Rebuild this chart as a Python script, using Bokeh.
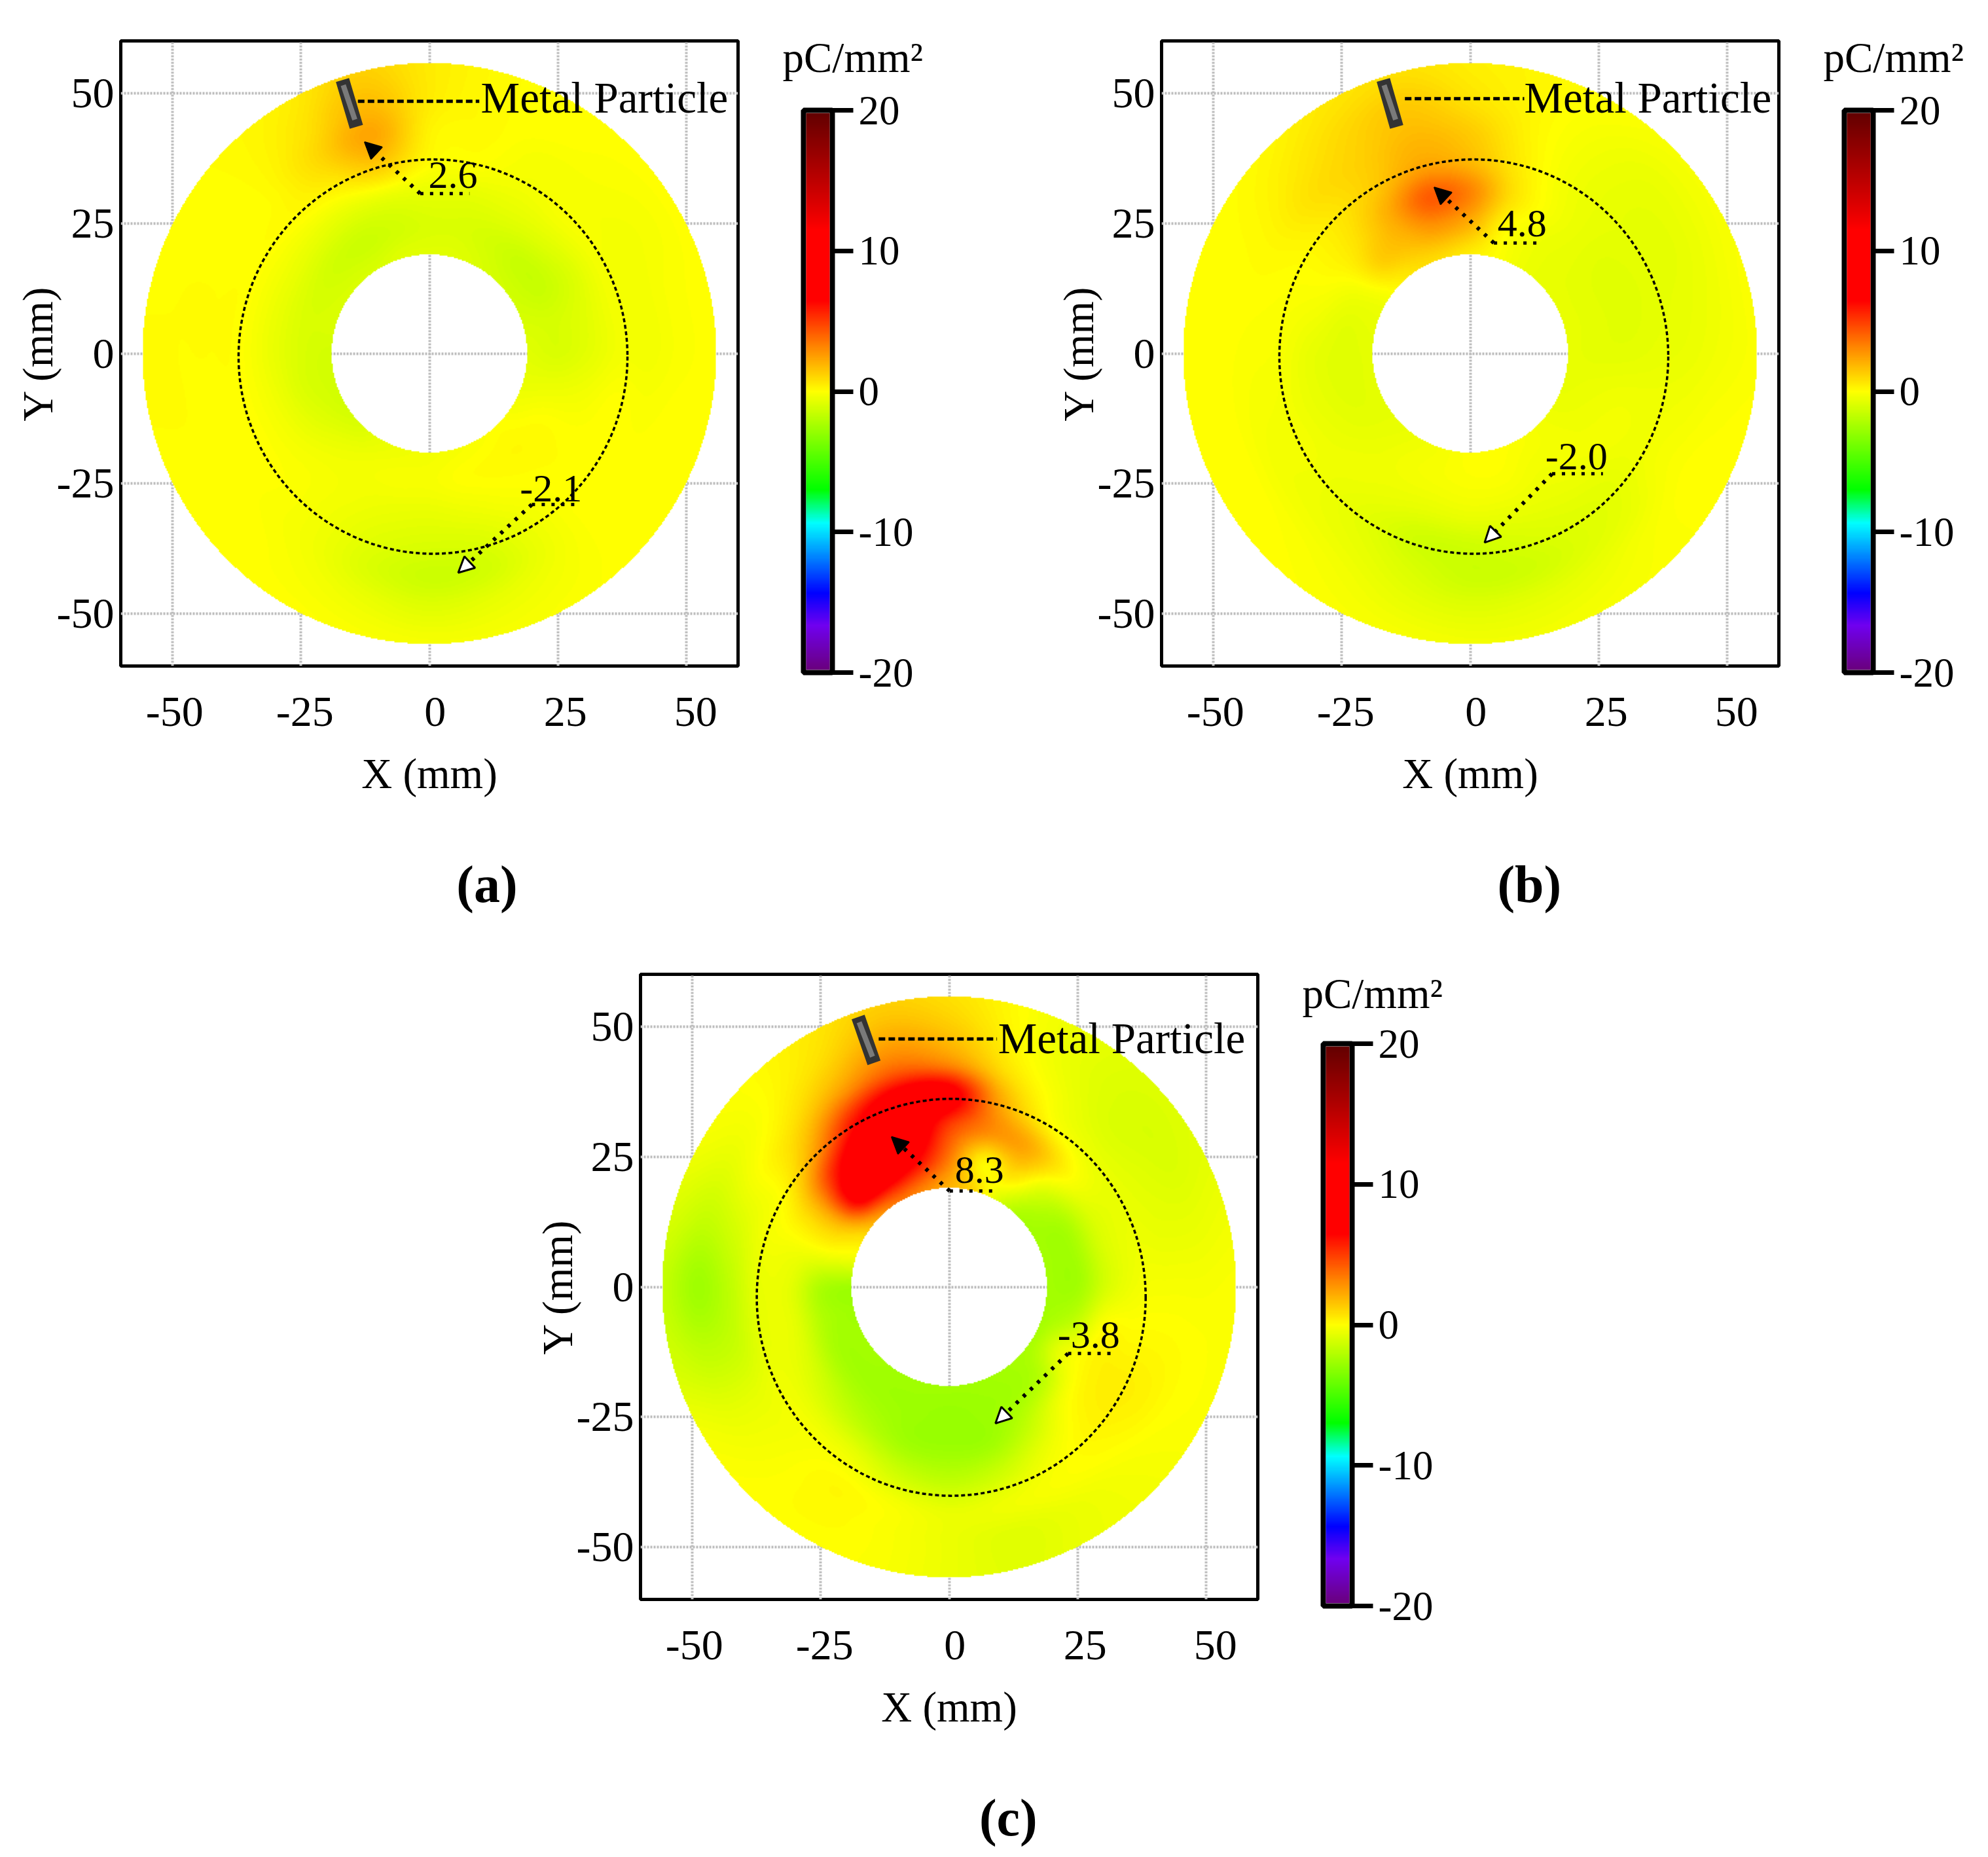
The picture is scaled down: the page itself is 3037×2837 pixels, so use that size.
import numpy as np
from bokeh.core.properties import value
from bokeh.embed import file_html
from bokeh.layouts import column, row
from bokeh.models import (Arrow, FixedTicker, LinearAxis, LinearColorMapper,
                          NormalHead, Range1d, Spacer, Title)
from bokeh.plotting import figure
from bokeh.resources import INLINE

FONT = "Liberation Serif"

# ---- data ----
XY_TICKS = [-50, -25, 0, 25, 50]
XY_TICK_LABELS = ["-50", "-25", "0", "25", "50"]
CB_TICKS = [-20, -10, 0, 10, 20]
CB_TICK_LABELS = ["-20", "-10", "0", "10", "20"]
X_LABEL = "X (mm)"
Y_LABEL = "Y (mm)"
CB_TITLE = "pC/mm\u00b2"
PARTICLE_LABEL = "Metal Particle"
PANEL_NAMES = ["(a)", "(b)", "(c)"]

RINGS = [19, 25, 31, 37, 43, 49, 55.9]      # mm
ANGLE_STEP = 15                             # degrees; columns run 0, 15, ... 345

# surface charge density (pC/mm2) read per ring (rows) and angle (columns)
FIELD_A = [
 [-.8,-1,-1.2,-1.2,-1,-.8,-.8,-.8,-1,-1,-1,-1,-1.2,-1.2,-1.2,-1,-.6,-.4,-.3,-.2,-.1,0,-.3,-.6],
 [-1,-1.1,-1.5,-1.5,-1.2,-1,-1,-1.2,-1.4,-1.3,-1.1,-1,-1,-1,-.8,-.5,-.3,-.2,-.2,0,.1,.15,0,-.5],
 [-.7,-.8,-1,-.8,-.7,-.7,-.6,-.6,-.7,-.6,-.5,-.5,-.5,-.4,-.3,-.2,-.3,-.5,-.6,-.4,-.1,.05,0,-.3],
 [-.3,-.3,-.3,-.2,-.3,-.1,.1,1.2,.4,.1,0,0,0,0,0,-.1,-.4,-.8,-1,-.9,-.4,0,0,0],
 [-.3,-.3,-.3,-.2,-.2,.1,.3,2.3,1,.1,0,.05,.05,0,0,-.1,-.4,-1,-1.4,-1.2,-.5,0,0,-.1],
 [-.1,-.1,-.2,-.1,0,.1,.5,1.8,.7,.1,0,.05,.05,.05,0,0,-.2,-.5,-.8,-.6,-.3,0,0,0],
 [0,0,0,0,0,.1,.5,1.2,.4,.1,0,0,.1,.05,0,0,0,-.1,-.2,-.2,-.1,0,0,0],
]
FIELD_B = [
 [-.6,-.6,-.6,-.6,-.4,0,.4,.8,.8,.3,-.4,-.6,-.7,-.7,-.7,-.6,-.4,-.2,0,0,-.1,-.3,-.5,-.6],
 [-.7,-.7,-.7,-.6,-.4,.2,2,2.6,1.8,1.2,-.2,-.7,-.8,-.8,-.7,-.5,-.3,-.2,-.1,-.1,-.3,-.3,-.4,-.5],
 [-.7,-.8,-.8,-.6,-.2,.8,3.2,4.2,2.2,.8,.1,-.3,-.6,-.6,-.5,-.4,-.5,-.6,-.5,-.5,-.5,-.4,-.3,-.4],
 [-.6,-.7,-.7,-.6,-.3,.5,1.8,2.4,1.4,.6,.1,-.1,-.2,-.3,-.3,-.5,-.8,-1.3,-1.3,-1,-.8,-.7,-.4,-.4],
 [-.5,-.6,-.7,-.6,-.3,.3,1.3,1.8,1.2,.8,.2,0,-.1,-.2,-.3,-.4,-.6,-1,-1.4,-1.3,-.9,-.6,-.2,-.3],
 [-.3,-.4,-.5,-.5,-.2,.2,.7,1.4,1,.5,.1,0,0,0,0,-.1,-.3,-.6,-.8,-.7,-.5,-.2,0,-.1],
 [-.1,-.1,-.2,-.2,0,.2,.4,.8,.6,.2,0,0,0,0,0,0,-.1,-.2,-.3,-.3,-.2,-.1,0,0],
]
FIELD_C = [
 [-2.5,-2.5,-2.5,-2.3,-1,1,2,3,3.5,2.5,.8,-.5,-2.6,-2.6,-2.5,-2.5,-2.6,-2.6,-2.6,-2.6,-2.5,-2.4,-2.4,-2.5],
 [-2.5,-2.5,-2.3,-1.2,.8,.3,3.5,6.5,8,7.5,2,-.2,-2.2,-2.2,-2.4,-2.5,-2.6,-2.7,-2.8,-2.7,-2.5,-2,-.6,-1.8],
 [-1,-1,-.8,.3,2.2,3,5,8.5,8.5,6,1.5,-.2,-.7,-.7,-1,-1.5,-2,-2.6,-2.7,-2.6,-1.6,-.3,.2,0],
 [-.3,-.5,-.6,-.4,.3,2.5,7.5,8,6,2.5,.2,-.3,-.6,-.6,-.4,-.4,-.6,-1.4,-1.8,-1.4,-.5,.2,.4,.1],
 [-.2,-.6,-.8,-.9,-.3,.8,3,4,2.5,.8,-.1,-1.1,-1.8,-1.5,-.6,-.2,.1,-.2,-.6,-.4,-.1,.1,.3,.1],
 [-.2,-.6,-1,-1,-.6,.2,1.5,2.2,1,.1,-.6,-1.6,-2.6,-1.7,-.6,-.1,.1,-.1,-.5,-.8,-.5,-.2,0,0],
 [-.1,-.4,-.8,-.9,-.6,0,.8,1.2,.5,0,-.3,-1,-1.6,-1.2,-.3,0,0,-.1,-.5,-.8,-.5,-.3,-.1,-.1],
]

PEAK_LABELS = ["2.6", "4.8", "8.3"]
TROUGH_LABELS = ["-2.1", "-2.0", "-3.8"]

# colour bar stops: value, colour
CB_STOP_VALUES = [-20, -16.7, -14.4, -9.4, -7, 0, 3.3, 6.5, 11.5, 20]
CB_STOP_COLORS = ["#6a0078", "#7000f0", "#0000ff", "#00ffff", "#00ff00",
                  "#ffff00", "#ff8000", "#ff0000", "#ff0000", "#600000"]

# ---- annotation geometry, mm, per panel ----
CIRCLE_X = [0.7, 0.7, 0.4]
CIRCLE_Y = [-0.6, -0.6, -2.0]
CIRCLE_W = [75.6, 75.6, 75.6]
CIRCLE_H = [75.7, 75.7, 76.2]
BAR_X0 = [-16.9, -16.9, -17.7]
BAR_Y0 = [52.5, 52.5, 51.8]
BAR_X1 = [-14.2, -14.3, -14.6]
BAR_Y1 = [43.5, 43.5, 43.0]
CORE_X0 = [-16.75, -16.75, -17.5]
CORE_Y0 = [51.5, 51.5, 50.8]
CORE_X1 = [-14.5, -14.5, -14.9]
CORE_Y1 = [44.9, 44.9, 44.2]
LEADER_X0 = [-13.9, -12.7, -13.7]
LEADER_X1 = [9.7, 10.5, 9.3]
LEADER_Y = [48.4, 48.9, 47.6]
NAME_X = [10.0, 10.5, 9.5]
NAME_Y = [49.1, 49.1, 47.8]
HOT_TIP_X = [-12.6, -7.0, -11.2]
HOT_TIP_Y = [40.6, 31.9, 28.8]
HOT_ELBOW_X = [-1.8, 4.6, 0.1]
HOT_ELBOW_Y = [30.7, 21.2, 18.4]
HOT_END_X = [7.8, 13.4, 9.0]
HOT_TEXT_X = [-0.2, 5.3, 1.1]
HOT_TEXT_Y = [34.3, 25.0, 22.4]
COLD_TIP_X = [5.6, 2.8, 9.0]
COLD_TIP_Y = [-42.1, -36.3, -26.2]
COLD_ELBOW_X = [19.9, 15.9, 23.1]
COLD_ELBOW_Y = [-29.0, -23.1, -12.8]
COLD_END_X = [29.0, 25.8, 32.2]
COLD_TEXT_X = [17.6, 14.6, 21.1]
COLD_TEXT_Y = [-25.9, -19.8, -9.2]
CAPTION_X = [11.2, 11.5, 11.5]


def make_palette():
    vals = np.linspace(-20, 20, 401)
    rgb = [[int(c[i:i + 2], 16) for c in CB_STOP_COLORS] for i in (1, 3, 5)]
    chan = [np.interp(vals, CB_STOP_VALUES, ch) for ch in rgb]
    return ["#%02x%02x%02x" % (int(r), int(g), int(b)) for r, g, b in zip(*chan)]


MAPPER = LinearColorMapper(palette=make_palette(), low=-20, high=20, nan_color="#00000000")


def cr_weights(t):
    return [-.5*t + t*t - .5*t**3, 1 - 2.5*t*t + 1.5*t**3, .5*t + 2*t*t - 1.5*t**3, -.5*t*t + .5*t**3]


def shade(table):
    # The table is all the data; this is only the smooth shading between its cells.
    tab = np.array(table, float)
    xs = np.linspace(-60, 60, 472)
    ys = np.linspace(-60, 60, 478)
    X, Y = np.meshgrid(xs, ys)
    R = np.hypot(X, Y)
    T = np.degrees(np.arctan2(Y, X)) % 360 / ANGLE_STEP
    F = np.interp(R, RINGS, np.arange(len(RINGS)))
    fi, ti = np.floor(F).astype(int), np.floor(T).astype(int)
    wf, wt = cr_weights(F - fi), cr_weights(T - ti)
    out = np.zeros_like(X)
    for a in range(4):
        ii = np.clip(fi + a - 1, 0, len(RINGS) - 1)
        for b in range(4):
            out += wf[a] * wt[b] * tab[ii, (ti + b - 1) % tab.shape[1]]
    out[(R < 19.1) | (R > 55.9)] = np.nan
    return out


def panel(i, table, width, height, left, top_b, bottom):
    p = figure(width=width, height=height, x_range=Range1d(-60, 60), y_range=Range1d(-60, 60),
               output_backend="svg", toolbar_location=None, frame_align=False,
               min_border_left=left, min_border_right=63, min_border_top=top_b, min_border_bottom=bottom,
               background_fill_color="white", border_fill_color="white")
    p.outline_line_color = "black"
    p.outline_line_width = 5
    p.outline_line_alpha = 1

    p.xaxis.visible = False
    p.xaxis.ticker = FixedTicker(ticks=XY_TICKS)
    p.extra_x_ranges = {"lab": Range1d(-60.34, 58.15)}
    xa = LinearAxis(x_range_name="lab", ticker=FixedTicker(ticks=XY_TICKS),
                    major_label_overrides=dict(zip(XY_TICKS, XY_TICK_LABELS)), axis_label=X_LABEL)
    p.add_layout(xa, "below")
    ya = p.yaxis[0]
    ya.ticker = FixedTicker(ticks=XY_TICKS)
    ya.major_label_overrides = dict(zip(XY_TICKS, XY_TICK_LABELS))
    ya.axis_label = Y_LABEL
    ya.major_label_orientation = "horizontal"
    for ax, std, lstd in ((xa, 42, 34), (ya, 4, -10)):
        ax.axis_line_color = None
        ax.major_tick_line_color = None
        ax.minor_tick_line_color = None
        ax.major_label_text_font = FONT
        ax.major_label_text_font_size = "66px"
        ax.major_label_text_color = "black"
        ax.major_label_standoff = std
        ax.axis_label_text_font = FONT
        ax.axis_label_text_font_size = "65px"
        ax.axis_label_text_font_style = "normal"
        ax.axis_label_text_color = "black"
        ax.axis_label_standoff = lstd
    # caption under the X axis, placed with a single labelled position
    cap = LinearAxis(ticker=FixedTicker(ticks=[CAPTION_X[i]]),
                     major_label_overrides={CAPTION_X[i]: PANEL_NAMES[i]},
                     axis_line_color=None, major_tick_line_color=None, minor_tick_line_color=None,
                     major_label_standoff=80, major_label_text_font=FONT, major_label_text_font_size="80px",
                     major_label_text_font_style="bold", major_label_text_color="black")
    p.add_layout(cap, "below")
    for g in (p.xgrid, p.ygrid):
        g.grid_line_color = "#bdbdbd"
        g.grid_line_width = 4
        g.grid_line_dash = "3 2"
    p.xgrid.ticker = FixedTicker(ticks=XY_TICKS)
    p.ygrid.ticker = FixedTicker(ticks=XY_TICKS)

    p.image(image=[shade(table)], x=-60, y=-60, dw=120, dh=120, color_mapper=MAPPER)

    p.ellipse(x=[CIRCLE_X[i]], y=[CIRCLE_Y[i]], width=CIRCLE_W[i], height=CIRCLE_H[i], fill_color=None,
              line_color="black", line_width=3.5, line_dash="6 4")

    p.line([BAR_X0[i], BAR_X1[i]], [BAR_Y0[i], BAR_Y1[i]], line_color="#333333", line_width=21)
    p.line([CORE_X0[i], CORE_X1[i]], [CORE_Y0[i], CORE_Y1[i]], line_color="#7a7a7a", line_width=8)
    p.line([LEADER_X0[i], LEADER_X1[i]], [LEADER_Y[i], LEADER_Y[i]], line_color="black", line_width=5, line_dash="10 5")

    p.line([HOT_ELBOW_X[i], HOT_END_X[i]], [HOT_ELBOW_Y[i], HOT_ELBOW_Y[i]], line_color="black", line_width=5, line_dash="5 10")
    p.line([COLD_ELBOW_X[i], COLD_END_X[i]], [COLD_ELBOW_Y[i], COLD_ELBOW_Y[i]], line_color="black", line_width=5, line_dash="5 10")
    p.add_layout(Arrow(x_start=HOT_ELBOW_X[i], y_start=HOT_ELBOW_Y[i], x_end=HOT_TIP_X[i], y_end=HOT_TIP_Y[i],
                       line_color="black", line_width=6, line_dash="5 10",
                       end=NormalHead(size=25, fill_color="black", line_color="black", line_width=2)))
    p.add_layout(Arrow(x_start=COLD_ELBOW_X[i], y_start=COLD_ELBOW_Y[i], x_end=COLD_TIP_X[i], y_end=COLD_TIP_Y[i],
                       line_color="black", line_width=6, line_dash="5 10",
                       end=NormalHead(size=24, fill_color="white", line_color="black", line_width=3)))

    p.text(x=[HOT_TEXT_X[i], COLD_TEXT_X[i]], y=[HOT_TEXT_Y[i], COLD_TEXT_Y[i]],
           text=[PEAK_LABELS[i], TROUGH_LABELS[i]], text_font=value(FONT), text_font_size="60px",
           text_baseline="alphabetic", text_align="left", text_color="black")
    p.text(x=[NAME_X[i]], y=[NAME_Y[i]], text=[PARTICLE_LABEL], text_font=value(FONT), text_font_size="67px",
           text_baseline="alphabetic", text_align="left", text_color="black")
    return p


def colorbar(width, height, top_b, bottom, title_standoff):
    p = figure(width=width, height=height, x_range=Range1d(0, 1), y_range=Range1d(-20, 20),
               y_axis_location="right", output_backend="svg", toolbar_location=None, frame_align=False,
               min_border_left=37, min_border_right=width - 37 - 44, min_border_top=top_b,
               min_border_bottom=bottom, border_fill_color="white")
    p.xaxis.visible = False
    p.grid.visible = False
    p.outline_line_color = "black"
    p.outline_line_width = 8
    p.outline_line_alpha = 1
    grad = np.linspace(-19.8, 19.8, 397).reshape(-1, 1)
    p.image(image=[grad], x=0.09, y=-19.8, dw=0.82, dh=39.6, color_mapper=MAPPER)
    a = p.yaxis[0]
    a.ticker = FixedTicker(ticks=CB_TICKS)
    a.major_label_overrides = dict(zip(CB_TICKS, CB_TICK_LABELS))
    a.axis_line_color = None
    a.minor_tick_line_color = None
    a.major_tick_line_color = "black"
    a.major_tick_line_width = 7
    a.major_tick_in = 0
    a.major_tick_out = 32
    a.major_label_standoff = 8
    a.major_label_text_font = FONT
    a.major_label_text_font_size = "63px"
    a.major_label_text_color = "black"
    a.major_label_orientation = "horizontal"
    p.add_layout(Title(text=CB_TITLE, align="left", offset=-32, standoff=title_standoff, text_font=FONT,
                       text_font_size="65px", text_font_style="normal", text_color="black"), "above")
    return p


top = row(panel(0, FIELD_A, 1190, 1434, 184, 62, 417), colorbar(408, 1434, 168, 407, 90),
          panel(1, FIELD_B, 1182, 1434, 176, 62, 417), colorbar(249, 1434, 168, 407, 90))
bot = row(Spacer(width=802, height=1403), panel(2, FIELD_C, 1182, 1403, 176, 54, 394), colorbar(249, 1403, 160, 384, 82))
page = column(top, bot)

open("out.html", "w").write(file_html(page, INLINE))
